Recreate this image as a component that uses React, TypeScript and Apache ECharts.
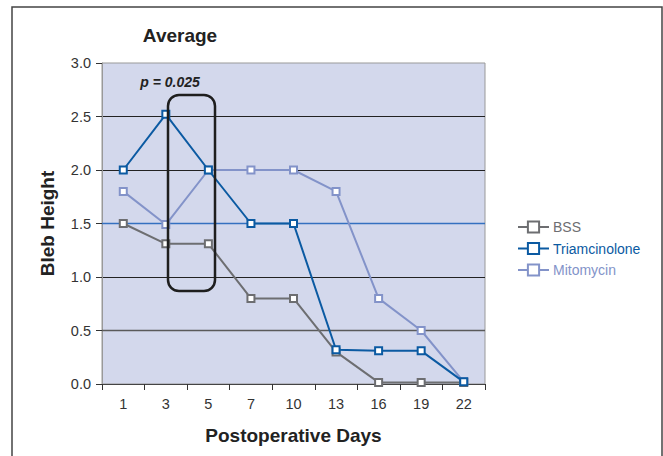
import React, { useEffect, useRef } from "react";
import * as echarts from "echarts";

const days = ["1", "3", "5", "7", "10", "13", "16", "19", "22"];
const bss = [1.5, 1.31, 1.31, 0.8, 0.8, 0.3, 0.015, 0.015, 0.015];
const triamcinolone = [2.0, 2.52, 2.0, 1.5, 1.5, 0.32, 0.31, 0.31, 0.02];
const mitomycin = [1.8, 1.49, 2.0, 2.0, 2.0, 1.8, 0.8, 0.5, 0.02];
const accentLines = [
  { value: 0.5, color: "#5a5a5a" },
  { value: 1.5, color: "#3470c0" },
];

const C_BSS = "#6d6e71";
const C_TRI = "#0b5aa2";
const C_MITO = "#8393c9";
const FONT = "Liberation Sans, Arial, sans-serif";

export default function App() {
  const ref = useRef<HTMLDivElement>(null);
  useEffect(() => {
    const chart = echarts.init(ref.current!, null, { renderer: "svg" });
    const mk = (name: string, data: number[], color: string, z: number) => ({
      name,
      type: "line",
      data,
      z,
      symbol: "rect",
      symbolSize: 7,
      color,
      lineStyle: { color, width: 2 },
      itemStyle: { color: "#fff", borderColor: color, borderWidth: 2 },
      emphasis: { disabled: true },
    });
    const mito: any = mk("Mitomycin", mitomycin, C_MITO, 2);
    mito.markLine = {
      silent: true,
      symbol: "none",
      label: { show: false },
      z: 1,
      data: accentLines.map((l) => ({
        yAxis: l.value,
        lineStyle: { color: l.color, width: 1.3, type: "solid" },
      })),
    };
    chart.setOption({
      animation: false,
      textStyle: { fontFamily: FONT },
      grid: {
        left: 102,
        top: 63,
        right: 178,
        bottom: 72,
        show: true,
        backgroundColor: "#d3d8ec",
        borderColor: "#999",
        borderWidth: 1,
      },
      legend: {
        orient: "vertical",
        left: 517,
        top: 220,
        padding: 0,
        itemWidth: 31,
        itemHeight: 14,
        itemGap: 7.5,
        textStyle: { fontSize: 14, fontFamily: FONT, padding: [0, 0, 0, -1] },
        data: [
          { name: "BSS", textStyle: { color: C_BSS } },
          { name: "Triamcinolone", textStyle: { color: C_TRI } },
          { name: "Mitomycin", textStyle: { color: C_MITO } },
        ],
      },
      xAxis: {
        type: "category",
        data: days,
        boundaryGap: true,
        name: "Postoperative Days",
        nameLocation: "middle",
        nameGap: 42,
        nameTextStyle: { fontSize: 19, fontWeight: "bold", color: "#222", fontFamily: FONT },
        axisLine: { show: true, lineStyle: { color: "#444", width: 1 } },
        axisTick: { show: true, length: 6, lineStyle: { color: "#333" } },
        axisLabel: { fontSize: 14.5, color: "#333", margin: 12, fontFamily: FONT },
        splitLine: { show: false },
      },
      yAxis: {
        type: "value",
        min: 0,
        max: 3,
        interval: 0.5,
        name: "Bleb Height",
        nameLocation: "middle",
        nameGap: 45,
        nameTextStyle: { fontSize: 19, fontWeight: "bold", color: "#222", fontFamily: FONT },
        axisLine: { show: true, lineStyle: { color: "#999" } },
        axisTick: { show: true, length: 6, lineStyle: { color: "#333" } },
        axisLabel: {
          fontSize: 14.5,
          color: "#333",
          margin: 11,
          fontFamily: FONT,
          formatter: (v: number) => v.toFixed(1),
        },
        splitLine: {
          show: true,
          showMinLine: false,
          showMaxLine: false,
          lineStyle: { width: 1, color: "#222" },
        },
      },
      series: [
        mk("BSS", bss, C_BSS, 3),
        mk("Triamcinolone", triamcinolone, C_TRI, 4),
        mito,
      ],
      graphic: [
        {
          type: "rect",
          shape: { x: 12, y: 7, width: 650, height: 470 },
          style: { fill: "none", stroke: "#444", lineWidth: 1.5 },
          silent: true,
          z: -10,
        },
        {
          type: "text",
          x: 180,
          y: 35,
          style: {
            text: "Average",
            fontSize: 19,
            fontWeight: "bold",
            fontFamily: FONT,
            fill: "#222",
            align: "center",
            verticalAlign: "middle",
          },
        },
        {
          type: "text",
          x: 170,
          y: 82,
          style: {
            text: "p = 0.025",
            fontSize: 14,
            fontWeight: "bold",
            fontStyle: "italic",
            fontFamily: FONT,
            fill: "#222",
            align: "center",
            verticalAlign: "middle",
          },
          z: 10,
        },
        {
          type: "rect",
          shape: { x: 168, y: 95, width: 47, height: 196, r: 11 },
          style: { fill: "none", stroke: "#1e1e1e", lineWidth: 2.5 },
          z: 10,
        },
      ],
    });
    return () => chart.dispose();
  }, []);
  return (
    <div
      ref={ref}
      style={{ position: "absolute", left: 0, top: 0, width: 663, height: 456, background: "#fff" }}
    />
  );
}
